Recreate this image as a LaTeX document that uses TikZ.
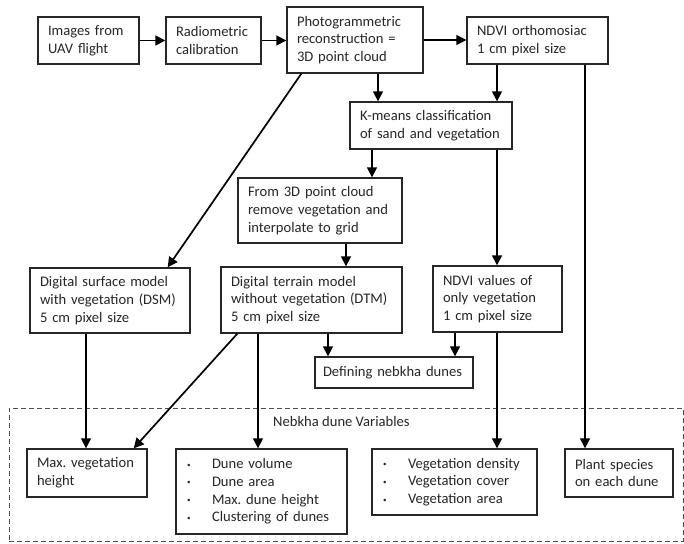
\documentclass[tikz,border=0pt]{standalone}
\usepackage{fontspec}
\setmainfont{Carlito}
\usetikzlibrary{arrows.meta,calc}
\frenchspacing
\begin{document}
\begin{tikzpicture}[x=1pt,y=-1pt,
  bx/.style={draw=black!85, line width=1.4pt, align=left, inner xsep=10pt, inner ysep=0pt,
    font=\fontsize{14.6}{17.7}\selectfont, text=black!85},
  arr/.style={line width=1.7pt, draw=black, -{Triangle[length=10pt,width=10pt]}},
  ln/.style={line width=1.7pt, draw=black}]
\useasboundingbox (0,0) rectangle (684,543);
\newcommand{\bl}{\makebox[26pt][l]{\hspace{1pt}\scriptsize\raisebox{1.5pt}{\textbullet}}}
% top row
\node[bx, text width=81pt, minimum height=47pt] (A) at (88.5,40.5) {Images from\\UAV flight};
\node[bx, text width=75pt, minimum height=47pt] (B) at (213.5,40.5) {Radiometric\\calibration};
\node[bx, text width=116pt, minimum height=66pt] (C) at (355,40) {Photogrammetric\\reconstruction =\\3D point cloud};
\node[bx, text width=121pt, minimum height=47pt] (D) at (537.5,40.5) {NDVI orthomosiac\\1 cm pixel size};
\node[bx, text width=142pt, minimum height=47pt] (E) at (431,125.5) {K-means classification\\of sand and vegetation};
\node[bx, text width=144pt, minimum height=65pt] (F) at (320,210.5) {From 3D point cloud\\remove vegetation and\\interpolate to grid};
\node[bx, text width=140pt, minimum height=65pt] (G) at (110,300.5) {Digital surface model\\with vegetation (DSM)\\5 cm pixel size};
\node[bx, text width=161pt, minimum height=66pt] (H) at (311.5,300) {Digital terrain model\\without vegetation (DTM)\\5 cm pixel size};
\node[bx, text width=109pt, minimum height=66pt] (I) at (497.5,299) {NDVI values of\\only vegetation\\1 cm pixel size};
\node[bx, inner xsep=8pt, text width=142pt, minimum height=31pt] (J) at (394,372.5) {Defining nebkha dunes};
% dashed group
\node[draw=black!70, line width=1pt, dash pattern=on 5pt off 3pt, minimum width=674pt, minimum height=133pt, inner sep=0pt] (grp) at (346,474.5) {};
\node[anchor=west, font=\fontsize{14.6}{17.7}\selectfont, text=black!85, inner sep=0pt] (lbl) at (273,421) {Nebkha dune Variables};
\node[bx, text width=100pt, minimum height=48pt] (K) at (87,473) {Max. vegetation\\height};
\node[bx, text width=151pt, minimum height=85pt] (L) at (261.5,491.5) {\bl Dune volume\\\bl Dune area\\\bl Max. dune height\\\bl Clustering of dunes};
\node[bx, text width=145pt, minimum height=66pt] (M) at (454.5,482) {\bl Vegetation density\\\bl Vegetation cover\\\bl Vegetation area};
\node[bx, text width=88pt, minimum height=48pt] (N) at (619,473) {Plant species\\on each dune};
% connectors
\draw[arr] (A.east) -- (B.west);
\draw[arr] (B.east) -- (B.east -| C.west);
\draw[arr] (C.east) -- (C.east -| D.west);
\draw[arr] ([xshift=23pt]C.south) -- ([xshift=-53pt]E.north);
\draw[arr] ([xshift=-40.5pt]D.south) -- ([xshift=66pt]E.north);
\draw[arr] ([xshift=47.5pt]D.south) -- ([xshift=-34pt]N.north);
\draw[arr] ($(C.south west)+(15,0)$) -- ($(G.north east)+(-23,0)$);
\draw[arr] ([xshift=-59pt]E.south) -- ([xshift=52pt]F.north);
\draw[arr] ([xshift=66pt]E.south) -- ([xshift=-0.5pt]I.north);
\draw[arr] ([xshift=26pt]F.south) -- ([xshift=34.5pt]H.north);
\draw[arr] ([xshift=-24pt]G.south) -- ([xshift=-1pt]K.north);
\draw[arr] ($(H.south west)+(17,0)$) -- ($(K.north east)+(-14,0)$);
\draw[arr] ([xshift=-53.5pt]H.south) -- ([xshift=-3.5pt]L.north);
\draw[arr] ([xshift=16.5pt]H.south) -- ([xshift=-66pt]J.north);
\draw[arr] ([xshift=-42.5pt]I.south) -- ([xshift=61pt]J.north);
\draw[arr] ([xshift=-0.5pt]I.south) -- ([xshift=42.5pt]M.north);
\end{tikzpicture}
\end{document}
